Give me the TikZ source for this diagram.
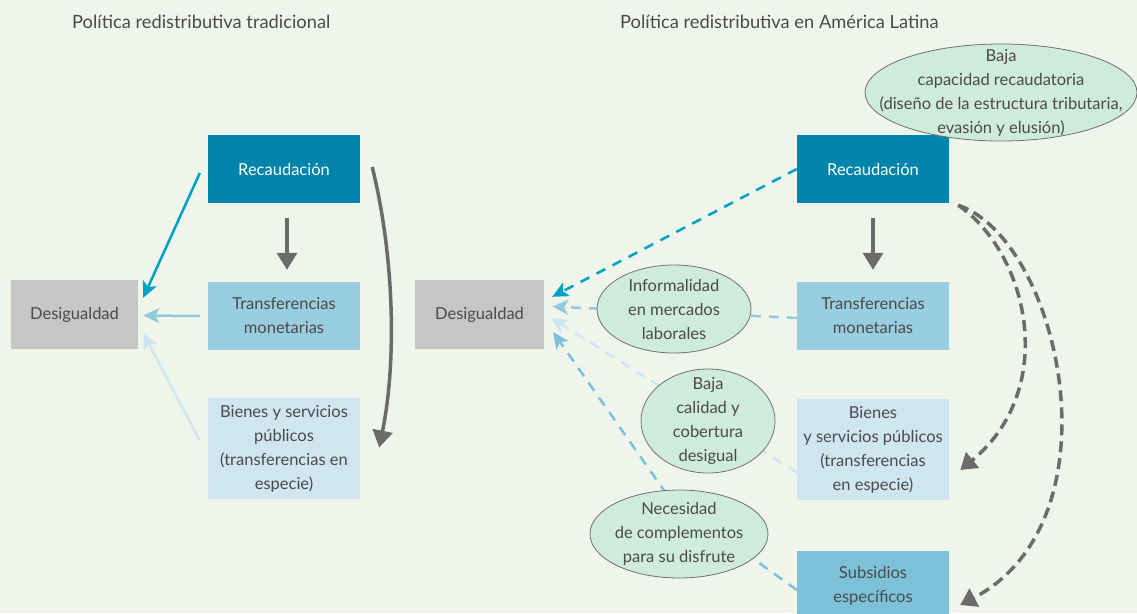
\documentclass[tikz,border=0pt]{standalone}
\usepackage{fontspec}
\setmainfont{Lato}
\usetikzlibrary{shapes.geometric,arrows.meta,calc}
\definecolor{bgc}{RGB}{240,245,236}
\definecolor{recc}{RGB}{0,132,172}
\definecolor{transc}{RGB}{153,205,224}
\definecolor{bienc}{RGB}{207,230,240}
\definecolor{subsc}{RGB}{125,193,217}
\definecolor{desc}{RGB}{198,198,198}
\definecolor{ellc}{RGB}{207,235,219}
\definecolor{ellb}{RGB}{112,112,112}
\definecolor{grayarr}{RGB}{107,107,107}
\definecolor{cyanc}{RGB}{0,163,196}
\definecolor{txtc}{RGB}{74,74,74}
\definecolor{larr}{RGB}{147,201,221}
\definecolor{llarr}{RGB}{205,230,241}
\tikzset{
  box/.style={rectangle, minimum width=152pt, minimum height=68pt, inner sep=0pt, align=center, text=txtc, font=\fontsize{16.5}{24}\selectfont},
  ell/.style={ellipse, draw=ellb, line width=0.8pt, fill=ellc, inner sep=0pt},
  etext/.style={inner sep=0pt, align=center, text=txtc, font=\fontsize{16.5}{24}\selectfont},
  ttl/.style={text=txtc, font=\fontsize{18.3}{20}\selectfont, anchor=west, inner sep=0pt},
  solidgray/.style={draw=grayarr, line width=3.5pt, -{Triangle[length=17pt,width=20pt]}},
  dashgray/.style={draw=grayarr, line width=3.5pt, dash pattern=on 11pt off 6pt, -{Triangle[length=16pt,width=20pt]}},
  thinarr/.style={line width=2.5pt, -{Stealth[length=16pt,width=15pt,inset=4pt]}},
  dasharr/.style={line width=2.5pt, dash pattern=on 10pt off 8pt, -{Stealth[length=16pt,width=15pt,inset=4pt]}},
}
\begin{document}
\begin{tikzpicture}[x=1pt,y=-1pt]
\clip (0,0) rectangle (1137,613);
\fill[bgc] (0,0) rectangle (1137,613);

% titles
\node[ttl] (t1) at (72,22) {Política redistributiva tradicional};
\node[ttl] (t2) at (620,22) {Política redistributiva en América Latina};

% left side
\node[box, fill=recc, text=white] (rL) at (284,169) {Recaudación};
\node[box, fill=transc] (tL) at (284,316) {Transferencias\\monetarias};
\node[box, fill=bienc, minimum height=101pt] (bL) at (284,448.5) {Bienes y servicios\\públicos\\(transferencias en\\especie)};
\node[box, fill=desc, minimum width=127pt, minimum height=69pt] (dL) at (74.5,314.5) {Desigualdad};

\draw[solidgray] ([xshift=3pt,yshift=-15pt]rL.south) -- ([xshift=3pt,yshift=12pt]tL.north);
\draw[thinarr, draw=cyanc] ($(rL.west)+(-8,4)$) -- ($(dL.north east)+(5,18)$);
\draw[thinarr, draw=larr] ($(tL.west)+(-8,0)$) -- ($(dL.east)+(5,1)$);
\draw[thinarr, draw=llarr] ($(bL.west)+(-8,-8)$) -- ($(dL.south east)+(5,-16)$);
\draw[solidgray] ($(rL.east)+(12,-2)$) .. controls (394,255) and (397,360) .. ($(bL.east)+(19,-1)$);

% right side
\node[box, fill=recc, text=white] (rR) at (873,169) {Recaudación};
\node[box, fill=transc] (tR) at (873,316) {Transferencias\\monetarias};
\node[box, fill=bienc, minimum height=101pt] (bR) at (873,449.5) {Bienes\\y servicios públicos\\(transferencias\\en especie)};
\node[box, fill=subsc, minimum height=70pt] (sR) at (873,586) {Subsidios\\específicos};
\node[box, fill=desc, minimum width=129pt, minimum height=69pt] (dR) at (479.5,314.5) {Desigualdad};

\draw[solidgray] ([yshift=-15pt]rR.south) -- ([yshift=12pt]tR.north);

\draw[dasharr, draw=cyanc] (rR.west) -- ($(dR.north east)+(8,17)$);
\draw[dasharr, draw=larr] ($(tR.west)+(0,2)$) -- ($(dR.east)+(8,-8)$);
\draw[dasharr, draw=llarr] ($(bR.west)+(0,23)$) -- ($(dR.east)+(7,3.5)$);
\coordinate (bend) at (670,499);
\draw[dasharr, draw=subsc] ($(sR.west)+(0,4)$) -- (bend) -- ($(dR.south east)+(9,-17)$);

\draw[dashgray] ($(rR.south east)+(9,2)$) .. controls (1030,255) and (1058,390) .. ($(bR.east)+(11,20.5)$);
\draw[dashgray] ($(rR.south east)+(9,2)$) .. controls (1060,240) and (1122,520) .. ($(sR.east)+(11,19)$);

% ellipses
\node[ell, minimum width=154pt, minimum height=88pt] (eI) at (674,309) {};
\node[etext] (eIt) at (eI) {Informalidad\\en mercados\\laborales};
\node[ell, minimum width=134pt, minimum height=104pt] (eB) at (708,421) {};
\node[etext] (eBt) at (eB) {Baja\\calidad y\\cobertura\\desigual};
\node[ell, minimum width=178pt, minimum height=88pt] (eN) at (679,534) {};
\node[etext] (eNt) at (eN) {Necesidad\\de complementos\\para su disfrute};
\node[ell, minimum width=272pt, minimum height=97pt] (eT) at (1001,92.5) {};
\node[etext] (eTt) at (eT) {Baja\\capacidad recaudatoria\\(diseño de la estructura tributaria,\\evasión y elusión)};
\end{tikzpicture}
\end{document}
